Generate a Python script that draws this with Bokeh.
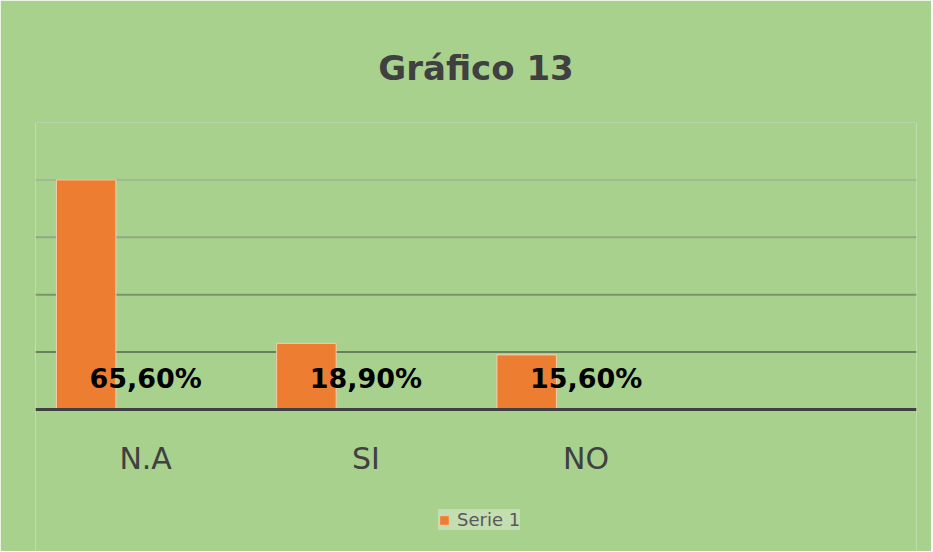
from bokeh.plotting import figure
from bokeh.models import FactorRange, Range1d, Span, Legend, LegendItem, ColumnDataSource
from bokeh.transform import dodge
from bokeh.core.properties import value
from bokeh.embed import file_html
from bokeh.resources import INLINE

# ---- data ----
categories = ["N.A", "SI", "NO", " "]          # 4th slot is empty in the original
bar_categories = ["N.A", "SI", "NO"]
values = [65.6, 18.9, 15.6]
labels = ["65,60%", "18,90%", "15,60%"]
grid_values = [16.4, 32.8, 49.2, 65.6, 82.0]
series_name = "Serie 1"
title_text = "Gráfico 13"

# ---- styles / layout ----
BG = "#A9D18E"
BAR = "#ED7D31"
grid_colors = ["#65805A", "#7A946C", "#8FA982", "#A1B995", "#B3C7A7"]
FONT = "DejaVu Sans"
PLOT_H = 287      # pixel height of the value area (0 .. top gridline)
BELOW_H = 142     # pixel room below the baseline for labels and legend

src = ColumnDataSource(dict(cat=bar_categories, val=values, label=labels))

y_end = grid_values[-1]
y_start = -y_end * BELOW_H / PLOT_H

p = figure(
    frame_width=881, frame_height=PLOT_H + BELOW_H,
    x_range=FactorRange(factors=categories, range_padding=0),
    y_range=Range1d(y_start, y_end),
    y_axis_location=None,
    output_backend="svg", toolbar_location=None,
    min_border_left=35, min_border_right=15,
    min_border_top=122, min_border_bottom=0,
    background_fill_color=BG, border_fill_color=BG,
    outline_line_color=None,
)

p.title.text = title_text
p.title.align = "center"
p.title.text_font = FONT
p.title.text_font_size = "34px"
p.title.text_font_style = "bold"
p.title.text_color = "#404040"
p.title.standoff = 70

p.xgrid.grid_line_color = None
p.ygrid.grid_line_color = None

for v, c in zip(grid_values, grid_colors):
    p.add_layout(Span(location=v, dimension="width", line_color=c,
                      line_width=2, level="underlay"))

r = p.vbar(x=dodge("cat", -0.27, range=p.x_range), top="val", width=0.27,
           source=src, fill_color=BAR, line_color="#F8CBAD", line_width=1)

p.text(x="cat", y=0, text="label", source=src, text_align="center",
       text_baseline="middle", y_offset=-31, text_font=value(FONT),
       text_font_size="27px", text_font_style="bold", text_color="black")

ax = p.xaxis[0]
ax.fixed_location = 0
ax.axis_line_color = "#404040"
ax.axis_line_width = 3
ax.major_tick_line_color = None
ax.minor_tick_line_color = None
ax.major_label_text_font = FONT
ax.major_label_text_font_size = "30px"
ax.major_label_text_color = "#404040"
ax.major_label_standoff = 25

legend = Legend(items=[LegendItem(label=series_name, renderers=[r])],
                location=(403, 21), orientation="horizontal",
                background_fill_color="#C5DDB3", border_line_color=None,
                label_text_font=FONT, label_text_font_size="18px",
                label_text_color="#595959", glyph_width=12, glyph_height=12,
                padding=12, label_height=21, label_standoff=7, margin=0)
p.add_layout(legend)

open("out.html", "w").write(file_html(p, INLINE))
